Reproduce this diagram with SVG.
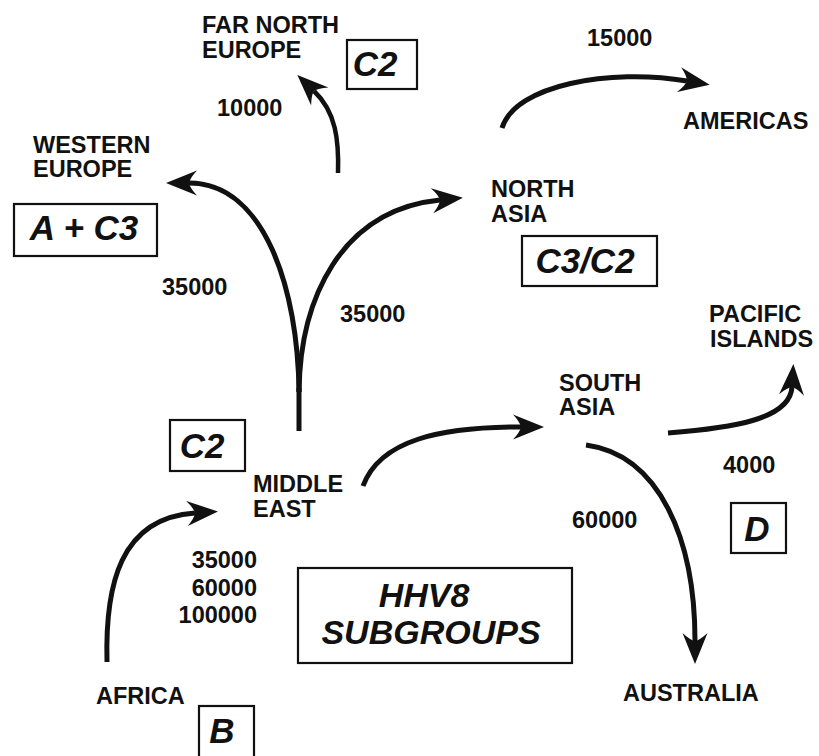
<svg xmlns="http://www.w3.org/2000/svg" width="819" height="756" viewBox="0 0 819 756">
<style>
.lbl{font-family:"Liberation Sans",Arial,sans-serif;font-weight:bold;font-size:23.5px;fill:#111}
.big{font-family:"Liberation Sans",Arial,sans-serif;font-weight:bold;font-style:italic;font-size:35px;fill:#111;text-anchor:middle}
.ttl{font-size:34px}
.box{fill:none;stroke:#111;stroke-width:2.2}
.arc{fill:none;stroke:#111;stroke-width:5;stroke-linecap:butt}
</style>
<defs>
<marker id="ah" markerUnits="userSpaceOnUse" orient="auto" markerWidth="40" markerHeight="30" refX="12" refY="14" overflow="visible">
<path d="M35 14 L4 1.5 Q11 9 12 14 Q11 19 4 26.5 Z" fill="#111"/>
</marker>
</defs>
<rect width="819" height="756" fill="#fff"/>
<g id="connectors">
<path class="arc" d="M299 431 L299 388"/>
<path class="arc" d="M299 392 C298 290 265 183 189 183" marker-end="url(#ah)"/>
<path class="arc" d="M299 392 C300 300 340 210 440 200" marker-end="url(#ah)"/>
<path class="arc" style="stroke-width:4.5" d="M338 173 C339 140 336 112 314 91" marker-end="url(#ah)"/>
<path class="arc" d="M502 128 C515 85 610 68 687 81" marker-end="url(#ah)"/>
<path class="arc" d="M107 662 C105 585 120 518 195 513" marker-end="url(#ah)"/>
<path class="arc" d="M363 486 C380 440 440 427 521 427" marker-end="url(#ah)"/>
<path class="arc" d="M668 433 C730 428 790 420 792 387" marker-end="url(#ah)"/>
<path class="arc" d="M586 445 C660 455 695 540 695 641" marker-end="url(#ah)"/>
</g>
<g id="far-north-europe">
<text class="lbl" x="202" y="33">FAR NORTH</text>
<text class="lbl" x="202" y="58">EUROPE</text>
<rect class="box" x="347" y="40" width="70" height="49"/>
<text class="big" x="375" y="76">C2</text>
</g>
<g id="western-europe">
<text class="lbl" x="33" y="153">WESTERN</text>
<text class="lbl" x="33" y="177">EUROPE</text>
<rect class="box" x="14" y="204" width="143" height="52"/>
<text class="big" x="84" y="240">A + C3</text>
</g>
<g id="north-asia">
<text class="lbl" x="491" y="197">NORTH</text>
<text class="lbl" x="491" y="222">ASIA</text>
<rect class="box" x="522" y="236" width="135" height="50"/>
<text class="big" x="585" y="273">C3/C2</text>
</g>
<g id="americas">
<text class="lbl" x="683" y="129">AMERICAS</text>
</g>
<g id="pacific-islands">
<text class="lbl" x="709" y="322">PACIFIC</text>
<text class="lbl" x="710" y="347">ISLANDS</text>
<rect class="box" x="731" y="503" width="55" height="50"/>
<text class="big" x="757" y="541">D</text>
</g>
<g id="south-asia">
<text class="lbl" x="559" y="391">SOUTH</text>
<text class="lbl" x="559" y="415">ASIA</text>
</g>
<g id="middle-east">
<rect class="box" x="170" y="420" width="75" height="51"/>
<text class="big" x="202" y="458">C2</text>
<text class="lbl" x="253" y="492">MIDDLE</text>
<text class="lbl" x="253" y="517">EAST</text>
</g>
<g id="africa">
<text class="lbl" x="96" y="704">AFRICA</text>
<rect class="box" x="199" y="706" width="55" height="60"/>
<text class="big" x="222" y="743">B</text>
</g>
<g id="australia">
<text class="lbl" x="623" y="701">AUSTRALIA</text>
</g>
<g id="title">
<rect class="box" x="298" y="568" width="274" height="95"/>
<text class="big ttl" x="424" y="607">HHV8</text>
<text class="big ttl" x="431" y="644">SUBGROUPS</text>
</g>
<g id="numbers">
<text class="lbl" x="217" y="116">10000</text>
<text class="lbl" x="587" y="46">15000</text>
<text class="lbl" x="162" y="295">35000</text>
<text class="lbl" x="340" y="322">35000</text>
<text class="lbl" x="723" y="473">4000</text>
<text class="lbl" x="572" y="528">60000</text>
<text class="lbl" x="257" y="568" text-anchor="end">35000</text>
<text class="lbl" x="257" y="596" text-anchor="end">60000</text>
<text class="lbl" x="257" y="623" text-anchor="end">100000</text>
</g>
</svg>
